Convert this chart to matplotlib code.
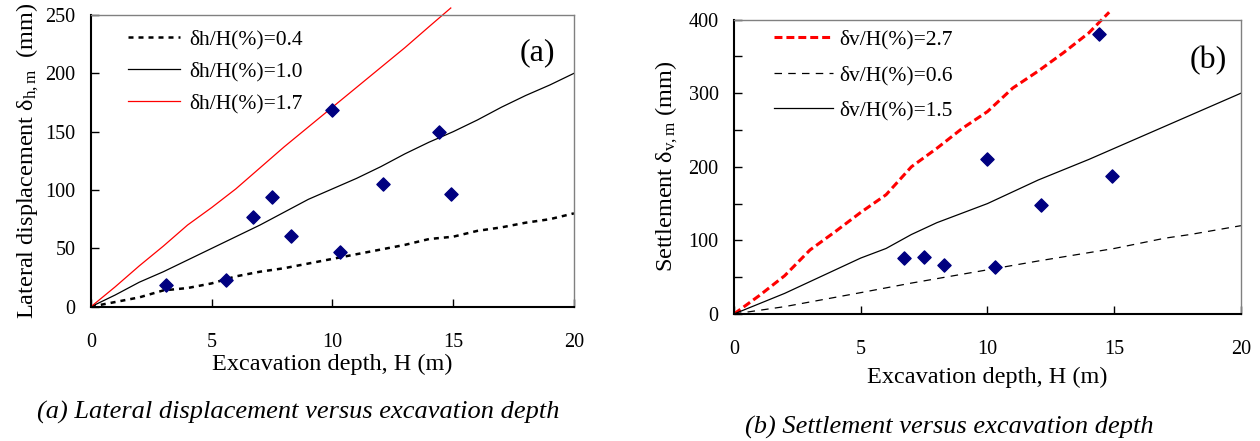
import matplotlib
matplotlib.use('Agg')
import matplotlib.pyplot as plt

plt.rcParams['font.family'] = ['Liberation Serif', 'DejaVu Serif']
plt.rcParams['mathtext.fontset'] = 'custom'
plt.rcParams['mathtext.rm'] = 'Liberation Serif'
plt.rcParams['mathtext.it'] = 'Liberation Serif:italic'

# measured points (same excavations in both panels)
H_lat = [3.1, 5.6, 6.7, 7.5, 8.3, 10.0, 10.3, 12.1, 14.4, 14.9]
d_lat = [19, 23, 77, 94, 61, 169, 47, 105, 150, 97]
H_set = [6.7, 7.5, 8.3, 10.0, 10.3, 12.1, 14.4, 14.9]
d_set = [76, 78, 67, 211, 64, 148, 380, 188]

# guide lines (a)
h04_x = [0, 1, 2, 3, 4, 5, 6, 7, 8, 9, 10, 11, 12, 13, 14, 15, 16, 17, 18, 19, 20]
h04_y = [0, 4, 8, 14, 16, 20, 26, 30, 33, 37, 41, 45, 49, 53, 58, 60, 65, 68, 72, 75, 80]
h10_x = [0, 1, 2, 3, 4, 5, 6, 7, 8, 9, 10, 11, 12, 13, 14, 15, 16, 17, 18, 19, 20]
h10_y = [0, 10, 21, 30, 40, 50, 60, 70, 81, 92, 101, 110, 120, 131, 141, 150, 160, 171, 181, 190, 200]
h17_x = [0, 1, 2, 3, 4, 5, 6, 7, 8, 9, 10, 11, 12, 13, 14, 14.9]
h17_y = [0, 17, 35, 52, 70, 85, 101, 119, 137, 154, 171, 188, 205, 222, 240, 256]

# guide lines (b)
v27_x = [0, 1, 2, 3, 4, 5, 6, 7, 8, 9, 10, 11, 12, 13, 14, 14.8]
v27_y = [0, 25, 52, 87, 112, 138, 162, 200, 225, 252, 275, 307, 330, 355, 382, 410]
v06_x = [0, 2, 5, 7, 8, 10, 12, 15, 17, 18, 20]
v06_y = [0, 10, 29, 42, 48, 60, 72, 89, 103, 108, 120]
v15_x = [0, 2, 5, 6, 7, 8, 10, 12, 14, 15, 16, 18, 20]
v15_y = [0, 28, 76, 89, 108, 124, 150, 182, 210, 225, 240, 270, 300]

fig = plt.figure(figsize=(12.6, 4.41), dpi=100)
axa = fig.add_axes([0.0722, 0.3045, 0.3833, 0.6615])
axb = fig.add_axes([0.5825, 0.288, 0.4024, 0.6676])

fs = 15.5   # legend
ft = 14.5   # tick labels
fl = 17.5   # axis labels

def style(ax):
    for s in ['left', 'bottom']:
        ax.spines[s].set_linewidth(1.5)
        ax.spines[s].set_color('black')
    for s in ['top', 'right']:
        ax.spines[s].set_linewidth(1.0)
        ax.spines[s].set_color('#808080')
    ax.tick_params(axis='x', direction='in', length=6, width=1, pad=19, labelsize=ft)
    ax.tick_params(axis='y', which='both', direction='in', length=6, width=1, pad=11, labelsize=ft)
    ax.set_xlim(0, 20)
    ax.set_xticks([0, 5, 10, 15, 20])

# (a)
axa.plot(h04_x, h04_y, color='black', lw=1.8, dashes=(2, 2), label='δh/H(%)=0.4')
axa.plot(h10_x, h10_y, color='black', lw=0.9, label='δh/H(%)=1.0')
axa.plot(h17_x, h17_y, color='red', lw=0.9, label='δh/H(%)=1.7', clip_on=False)
axa.scatter(H_lat, d_lat, marker='D', s=45, color='#000080', zorder=5)
axa.set_ylim(0, 250)
axa.set_yticks([0, 50, 100, 150, 200, 250])
style(axa)
axa.set_xlabel('Excavation depth, H (m)', fontsize=fl, labelpad=1)
axa.set_ylabel('Lateral displacement δ$_{\\rm h,m}$  (mm)', fontsize=fl, labelpad=3)
axa.legend(loc='upper left', bbox_to_anchor=(0.077, 0.95), frameon=False, fontsize=fs,
           handlelength=2.4, handletextpad=0.45, labelspacing=0.55,
           borderpad=0, borderaxespad=0)
axa.text(0.925, 0.87, '(a)', transform=axa.transAxes, fontsize=23, ha='center', va='center')

# (b)
axb.plot(v27_x, v27_y, color='red', lw=2.2, dashes=(2.6, 1.3), label='δv/H(%)=2.7', clip_on=False)
axb.plot(v06_x, v06_y, color='black', lw=0.9, dashes=(6, 5), label='δv/H(%)=0.6')
axb.plot(v15_x, v15_y, color='black', lw=0.9, label='δv/H(%)=1.5')
axb.scatter(H_set, d_set, marker='D', s=45, color='#000080', zorder=5)
axb.set_ylim(0, 400)
axb.set_yticks([0, 100, 200, 300, 400])
axb.set_yticks([50, 150, 250, 350], minor=True)
style(axb)
axb.set_xlabel('Excavation depth, H (m)', fontsize=fl, labelpad=5)
axb.set_ylabel('Settlement δ$_{\\rm v,m}$ (mm)', fontsize=fl, labelpad=6)
axb.legend(loc='upper left', bbox_to_anchor=(0.079, 0.965), frameon=False, fontsize=fs,
           handlelength=2.75, handletextpad=0.3, labelspacing=0.7,
           borderpad=0, borderaxespad=0)
axb.text(0.935, 0.86, '(b)', transform=axb.transAxes, fontsize=23, ha='center', va='center')

# captions
fig.text(298 / 1260, 1 - 412 / 441, '(a) Lateral displacement versus excavation depth',
         fontsize=19, style='italic', ha='center', va='center')
fig.text(949 / 1260, 1 - 427 / 441, '(b) Settlement versus excavation depth',
         fontsize=19, style='italic', ha='center', va='center')

plt.savefig('out.png', dpi=100)
